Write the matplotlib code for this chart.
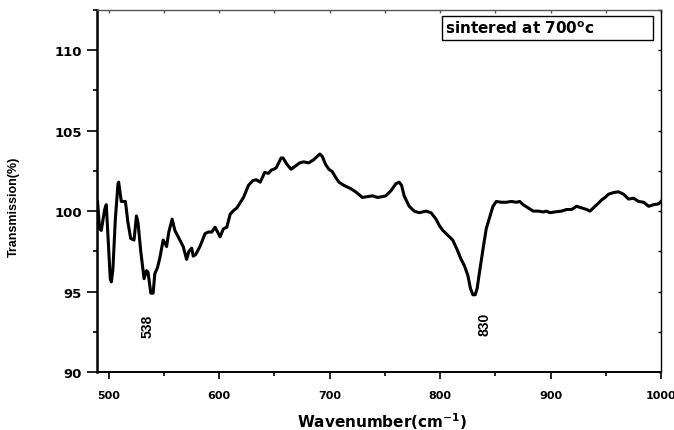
import numpy as np
import matplotlib
matplotlib.use("Agg")
import matplotlib.pyplot as plt
from matplotlib.ticker import MultipleLocator
from matplotlib.patches import Rectangle

# FTIR spectrum, sample sintered at 700 C
wavenumber = [490.0, 491.8, 493.4, 496.4, 497.9, 501.5, 502.5, 503.9, 506.1, 508.5,
              509.1, 511.5, 513.9, 515.2, 517.5, 520.0, 523.0, 525.2, 526.6, 529.1,
              532.1, 534.3, 535.7, 538.2, 540.3, 541.8, 544.3, 546.4, 549.4, 552.5,
              554.5, 557.5, 560.0, 563.0, 567.5, 570.6, 572.7, 575.2, 576.6, 578.8,
              582.7, 587.3, 590.3, 593.4, 596.4, 600.9, 603.9, 607.0, 610.0, 612.5,
              616.1, 622.1, 626.6, 630.6, 633.6, 637.3, 641.2, 644.8, 647.3, 649.4,
              651.8, 656.1, 657.9, 661.5, 665.2, 669.1, 673.0, 676.6, 681.2, 685.7,
              688.8, 691.2, 693.4, 696.4, 699.4, 702.5, 705.5, 708.5, 713.0, 719.1,
              723.6, 729.7, 734.3, 738.8, 743.4, 747.9, 750.9, 755.5, 760.0, 763.0,
              765.2, 767.5, 772.1, 776.6, 781.2, 787.3, 791.8, 796.4, 799.4, 802.5,
              807.0, 811.5, 815.5, 819.1, 822.1, 825.2, 827.5, 829.7, 831.8, 833.6,
              835.7, 838.8, 841.8, 844.8, 847.9, 850.9, 855.5, 860.0, 864.5, 869.1,
              872.1, 875.2, 879.7, 884.3, 888.8, 893.4, 896.4, 899.4, 903.9, 910.0,
              914.5, 919.1, 923.6, 928.2, 932.7, 935.7, 938.8, 943.4, 946.4, 949.4,
              952.5, 957.0, 961.5, 966.1, 970.6, 975.2, 979.7, 984.3, 988.8, 993.4,
              997.9, 1000.0]
transmission = [100.6, 98.9, 98.8, 100.1, 100.4, 95.8, 95.6, 96.4, 99.5, 101.7,
                101.8, 100.6, 100.6, 100.6, 99.3, 98.3, 98.2, 99.7, 99.3, 97.5,
                95.8, 96.3, 96.2, 94.9, 94.9, 96.1, 96.5, 97.1, 98.2, 97.8,
                98.7, 99.5, 98.8, 98.4, 97.8, 97.0, 97.5, 97.7, 97.2, 97.3,
                97.8, 98.6, 98.7, 98.7, 99.0, 98.4, 98.9, 99.0, 99.8, 100.0,
                100.2, 100.85, 101.6, 101.9, 101.95, 101.8, 102.4, 102.35, 102.55, 102.6,
                102.7, 103.3, 103.3, 102.9, 102.6, 102.8, 103.0, 103.06, 103.0, 103.2,
                103.4, 103.55, 103.4, 102.9, 102.6, 102.45, 102.1, 101.8, 101.6, 101.4,
                101.2, 100.85, 100.9, 100.95, 100.85, 100.9, 100.95, 101.26, 101.7, 101.8,
                101.6, 100.95, 100.3, 100.0, 99.9, 100.0, 99.9, 99.5, 99.1, 98.8,
                98.5, 98.2, 97.6, 97.0, 96.6, 96.0, 95.2, 94.8, 94.8, 95.2,
                96.2, 97.6, 98.9, 99.6, 100.3, 100.6, 100.55, 100.55, 100.6, 100.55,
                100.6, 100.4, 100.2, 100.0, 100.0, 99.95, 100.0, 99.9, 99.95, 100.0,
                100.1, 100.1, 100.3, 100.2, 100.1, 100.0, 100.2, 100.5, 100.7, 100.85,
                101.05, 101.15, 101.2, 101.05, 100.75, 100.8, 100.6, 100.55, 100.3, 100.4,
                100.45, 100.6]

peak_labels = ["538", "830"]
label_pos = [(535.5, 92.9), (840.0, 93.0)]

narrow = ["Liberation Sans", "DejaVu Sans"]

fig = plt.figure(figsize=(6.74, 4.31), dpi=100)
ax = fig.add_axes([97 / 674, 58 / 431, 564 / 674, 362 / 431])

ax.plot(wavenumber, transmission, color="black", lw=2.2, solid_joinstyle="round")

ax.set_xlim(489.5, 1000)
ax.set_ylim(90, 112.5)
ax.xaxis.set_major_locator(MultipleLocator(100))
ax.xaxis.set_minor_locator(MultipleLocator(50))
ax.yaxis.set_major_locator(MultipleLocator(5))
ax.yaxis.set_minor_locator(MultipleLocator(2.5))

ax.tick_params(axis="x", which="major", direction="out", length=5, width=1.2, pad=8,
               labelsize=8)
ax.tick_params(axis="x", which="minor", direction="out", length=3, width=1.2)
ax.tick_params(axis="y", which="major", direction="out", length=7, width=1.2, pad=4,
               labelsize=9.5)
ax.tick_params(axis="y", which="minor", direction="out", length=3, width=1.2)
for lab in ax.get_xticklabels() + ax.get_yticklabels():
    lab.set_fontweight("bold")

ax.spines["left"].set_linewidth(1.8)
ax.spines["bottom"].set_linewidth(1.4)
ax.spines["top"].set_linewidth(1.0)
ax.spines["top"].set_color("#555555")
ax.spines["right"].set_linewidth(1.0)

# small inward ticks on the top and right frame
top = ax.secondary_xaxis("top")
top.xaxis.set_major_locator(MultipleLocator(100))
top.xaxis.set_minor_locator(MultipleLocator(50))
top.tick_params(which="both", direction="in", length=2, width=1, labeltop=False, color="#555555")
top.spines["top"].set_visible(False)
right = ax.secondary_yaxis("right")
right.yaxis.set_major_locator(MultipleLocator(5))
right.yaxis.set_minor_locator(MultipleLocator(2.5))
right.tick_params(which="both", direction="in", length=2, width=1, labelright=False)
right.spines["right"].set_visible(False)

ax.set_xlabel(r"Wavenumber(cm$^{\mathbf{-1}}$)", fontsize=11, fontweight="bold")
ax.xaxis.set_label_coords(0.505, -0.105)
ax.set_ylabel("Transmission(%)", fontsize=9, fontweight="bold", family=narrow)
ax.yaxis.set_label_coords(-0.1365, 0.459)

for (lx, ly), txt in zip(label_pos, peak_labels):
    ax.text(lx, ly, txt, rotation=90, ha="center", va="center", fontsize=10,
            fontweight="bold", family=narrow)

# sample label box
fig.patches.append(Rectangle((442 / 674, 390 / 431), 211 / 674, 24 / 431,
                             transform=fig.transFigure, fill=False,
                             edgecolor="black", lw=1.0))
fig.text(445 / 674, 402 / 431, r"sintered at 700$^{\mathbf{o}}$c", fontsize=11,
         fontweight="bold", ha="left", va="center")

fig.savefig("out.png", dpi=100)
